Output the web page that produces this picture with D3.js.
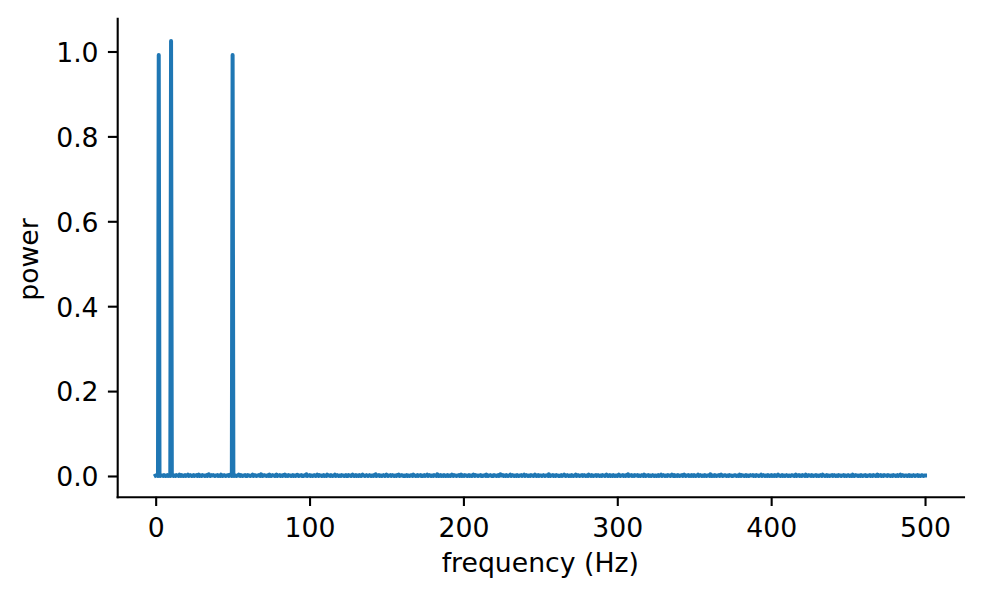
<!DOCTYPE html>
<html><head><meta charset="utf-8">
<script src="https://cdn.jsdelivr.net/npm/d3@7"></script>
<style>body{margin:0;background:#fff}svg{display:block}</style>
</head><body><svg id="c" width="982" height="598"></svg>
<script>
// frequency axis: 0 .. 500 Hz, sampled every 0.5 Hz
const freqStart = 0;
const freqStep = 0.5;
// power spectrum values (one per frequency bin)
const power = [
0.001,0.002,0.001,0,0.992,0.001,0,0.002,0.001,0.001,0,0.002,0.001,0,0.001,0.002,0,0.001,0.001,0,1.025,0.001,0.002,0,0.001,
0.001,0,0.002,0.001,0.001,0,0.003,0.001,0,0.002,0.001,0,0.001,0.002,0,0.001,0.001,0.003,0,0.001,0.002,0.001,0,0.001,0.002,
0,0.001,0.001,0.002,0,0.001,0.003,0,0.001,0.001,0,0.002,0.001,0.001,0,0.001,0.002,0,0.001,0.004,0.001,0,0.001,0.002,0.001,
0.002,0.001,0,0.001,0.001,0.002,0,0.001,0.001,0,0.003,0.001,0,0.001,0.002,0.001,0,0.001,0.001,0.002,0,0.001,0.003,0.001,0,
0.992,0.001,0,0.002,0.001,0,0.001,0.001,0.003,0.001,0,0.002,0.001,0,0.001,0.001,0.002,0,0.001,0,0.002,0.001,0.001,0,0.001,
0.001,0.003,0,0.001,0.002,0.001,0,0.001,0.001,0.002,0.001,0,0.004,0.001,0,0.001,0.002,0.001,0.001,0,0.001,0.002,0,0.003,0.001,
0,0.001,0.002,0.001,0.001,0,0.001,0.003,0,0.001,0.001,0.002,0,0.001,0.001,0,0.002,0.001,0.003,0,0.001,0.001,0,0.002,0.001,
0.001,0,0.001,0.002,0,0.001,0.001,0,0.002,0.003,0.001,0,0.001,0.001,0.002,0,0.001,0,0.001,0.002,0.001,0.004,0,0.001,0.001,
0.002,0,0.001,0.001,0,0.001,0.002,0.001,0,0.001,0.003,0.001,0,0.002,0.001,0.001,0,0.001,0.002,0,0.001,0.001,0,0.003,0.001,
0.001,0.001,0,0.002,0.001,0,0.001,0.001,0.003,0,0.001,0.002,0.001,0,0.001,0.001,0,0.002,0.001,0.001,0,0.001,0.002,0,0.001,
0,0.002,0.001,0.001,0,0.001,0.003,0.001,0,0.001,0.002,0,0.001,0.001,0,0.002,0.001,0,0.001,0.003,0.001,0.001,0,0.001,0.002,
0.001,0,0.001,0.002,0.001,0,0.001,0.001,0,0.002,0.001,0.004,0,0.001,0.001,0.002,0,0.001,0.001,0,0.001,0.002,0.001,0,0.001,
0.003,0.001,0,0.001,0.001,0.002,0,0.001,0.002,0.001,0,0.001,0.001,0,0.002,0.001,0.003,0,0.001,0.001,0.002,0.001,0,0.001,0,
0.001,0.002,0,0.001,0.001,0,0.001,0.002,0.001,0,0.003,0.001,0.001,0,0.001,0.002,0,0.001,0.001,0.002,0,0.001,0,0.001,0.002,
0,0.001,0.001,0.003,0,0.001,0.002,0.001,0,0.001,0.001,0,0.002,0.001,0.001,0,0.004,0.001,0,0.001,0.002,0,0.001,0.001,0,
0.002,0.001,0,0.001,0.002,0,0.001,0.001,0,0.001,0.003,0.001,0,0.002,0.001,0.001,0,0.001,0.001,0.002,0,0.001,0.003,0,0.001,
0.001,0,0.002,0.001,0.001,0,0.001,0.002,0,0.001,0.001,0,0.001,0.003,0.001,0,0.002,0.001,0.001,0,0.001,0.001,0.002,0,0.001,
0,0.001,0.001,0.002,0,0.003,0.001,0,0.001,0.001,0.002,0.001,0,0.001,0,0.002,0.001,0.001,0,0.001,0.002,0,0.001,0.004,0.001,
0.001,0.002,0,0.001,0.001,0,0.002,0.001,0,0.001,0.001,0.003,0,0.001,0.002,0.001,0,0.001,0.001,0,0.002,0.001,0,0.001,0.001,
0.002,0,0.001,0.001,0.003,0,0.001,0.002,0.001,0,0.001,0.001,0,0.002,0.001,0.001,0,0.001,0.003,0.001,0,0.001,0.002,0,0.001,
0.001,0.001,0,0.001,0.002,0.001,0,0.001,0.001,0.002,0,0.004,0.001,0,0.001,0.001,0.002,0,0.001,0.001,0,0.002,0.001,0.001,0,
0,0.001,0.002,0,0.001,0.001,0.003,0.001,0,0.001,0.002,0.001,0,0.001,0.001,0,0.002,0.001,0,0.001,0.001,0.003,0,0.001,0.002,
0.001,0,0.001,0.001,0.002,0,0.001,0.002,0.001,0,0.001,0.001,0,0.003,0.001,0.001,0,0.002,0.001,0,0.001,0.001,0.002,0,0.001,
0.002,0.001,0,0.001,0.001,0,0.002,0.001,0.001,0,0.001,0.003,0.001,0,0.001,0.002,0,0.001,0.001,0,0.002,0.001,0,0.001,0.001,
0,0.001,0.003,0.001,0,0.001,0.001,0.002,0,0.001,0.001,0,0.002,0.001,0.004,0,0.001,0.001,0.002,0,0.001,0.001,0,0.002,0.001,
0.001,0.002,0,0.001,0.001,0,0.001,0.002,0.001,0,0.003,0.001,0,0.001,0.001,0.002,0,0.001,0.001,0,0.001,0.002,0.001,0,0.001,
0.001,0,0.001,0.002,0,0.001,0.001,0.003,0,0.001,0.002,0.001,0,0.001,0.001,0,0.002,0.001,0.001,0,0.001,0.003,0.001,0,0.002,
0,0.001,0.001,0,0.002,0.001,0,0.001,0.001,0.002,0,0.001,0.003,0.001,0,0.001,0.001,0.002,0,0.001,0.001,0,0.002,0.001,0,
0.002,0.001,0,0.001,0.001,0.003,0,0.001,0.002,0.001,0,0.001,0.001,0,0.002,0.001,0,0.001,0.001,0.002,0,0.004,0.001,0,0.001,
0.001,0,0.002,0.001,0,0.001,0.001,0.002,0,0.001,0.003,0.001,0,0.001,0.001,0.002,0.001,0,0.001,0.001,0,0.002,0.001,0.001,0,
0,0.001,0.001,0.002,0.001,0,0.001,0.001,0,0.003,0.001,0,0.002,0.001,0.001,0,0.001,0.002,0,0.001,0.001,0,0.001,0.002,0.001,
0.001,0.002,0,0.001,0.001,0,0.002,0.001,0.001,0,0.001,0.001,0.003,0,0.001,0.002,0.001,0,0.001,0.001,0,0.002,0.001,0,0.001,
0.002,0,0.001,0.001,0,0.002,0.001,0,0.001,0.003,0.001,0.001,0,0.001,0.002,0,0.001,0.001,0,0.001,0.002,0.001,0,0.001,0.001,
0,0.001,0.002,0.001,0.001,0,0.001,0.003,0,0.001,0.001,0.002,0,0.001,0.001,0,0.002,0.001,0.001,0,0.003,0.001,0,0.001,0.002,
0.001,0.001,0,0.002,0.001,0,0.001,0.001,0.002,0,0.001,0.001,0,0.001,0.002,0.001,0,0.003,0.001,0.001,0,0.001,0.002,0,0.001,
0.001,0,0.001,0.001,0.002,0,0.001,0.002,0.001,0,0.001,0.001,0,0.002,0.001,0.001,0,0.001,0.001,0.002,0,0.001,0.001,0,0.001,
0.002,0.001,0,0.001,0.001,0,0.003,0.001,0,0.001,0.002,0.001,0.001,0,0.001,0.001,0,0.002,0.001,0,0.001,0.001,0.002,0,0.001,
0,0.001,0.001,0.002,0,0.001,0.001,0,0.002,0.001,0.001,0,0.001,0.003,0,0.001,0.001,0.002,0,0.001,0.001,0,0.002,0.001,0.001,
0.001,0,0.002,0.001,0.001,0,0.001,0.001,0,0.002,0.001,0.001,0,0.001,0.002,0,0.001,0.001,0.003,0,0.001,0.002,0.001,0,0.001,
0.001,0.001,0,0.001,0.002,0,0.001,0.001,0,0.001,0.002,0.001,0,0.001,0.001,0.002,0,0.001,0.001,0,0.001,0.002,0.001,0,0.001,
0.001
];
const xTicks = [0, 100, 200, 300, 400, 500];
const yTicks = [0.0, 0.2, 0.4, 0.6, 0.8, 1.0];
const xLabel = "frequency (Hz)";
const yLabel = "power";

const freqs = power.map((_, i) => freqStart + i * freqStep);
const data = freqs.map((f, i) => ({f, p: power[i]}));

const W = 982, H = 598;
const plot = {left: 117.2, right: 963.5, top: 18.3, bottom: 496.7};
const FONT = "'DejaVu Sans', sans-serif";
const FS = 26.7;
const TICK = 9.3, PAD = 9.3, SPINE = 2.1;

const x = d3.scaleLinear().domain([-25, 525]).range([plot.left, plot.right]);
const y = d3.scaleLinear().domain([-0.0488, 1.0782]).range([plot.bottom, plot.top]);

const svg = d3.select("#c");
svg.append("rect").attr("width", W).attr("height", H).attr("fill", "#fff");

// data line
const line = d3.line().x(d => x(d.f)).y(d => y(d.p));
svg.append("path")
  .datum(data)
  .attr("d", line)
  .attr("fill", "none")
  .attr("stroke", "#1f77b4")
  .attr("stroke-width", 4)
  .attr("stroke-linejoin", "round")
  .attr("stroke-linecap", "square");

// x axis
const gx = svg.append("g").attr("transform", `translate(0,${plot.bottom})`)
  .call(d3.axisBottom(x).tickValues(xTicks).tickFormat(d3.format("d"))
    .tickSize(TICK).tickSizeOuter(0).tickPadding(PAD));
// y axis
const gy = svg.append("g").attr("transform", `translate(${plot.left},0)`)
  .call(d3.axisLeft(y).tickValues(yTicks).tickFormat(d3.format(".1f"))
    .tickSize(TICK).tickSizeOuter(0).tickPadding(PAD));

[gx, gy].forEach(g => {
  g.select(".domain").attr("stroke", "#000").attr("stroke-width", SPINE).attr("stroke-linecap", "square");
  g.selectAll(".tick line").attr("stroke", "#000").attr("stroke-width", SPINE);
  g.selectAll(".tick text").attr("fill", "#000").style("font-family", FONT).style("font-size", FS + "px");
});
gx.selectAll(".tick text").attr("dy", "0.82em");
gy.selectAll(".tick text").attr("dy", "0.37em");

// axis labels
svg.append("text")
  .attr("x", (plot.left + plot.right) / 2)
  .attr("y", 571.5)
  .attr("text-anchor", "middle")
  .style("font-family", FONT).style("font-size", FS + "px")
  .text(xLabel);
svg.append("text")
  .attr("transform", `translate(38,${(plot.top + plot.bottom) / 2 + 2}) rotate(-90)`)
  .attr("text-anchor", "middle")
  .style("font-family", FONT).style("font-size", FS + "px")
  .text(yLabel);
</script>
</body></html>
